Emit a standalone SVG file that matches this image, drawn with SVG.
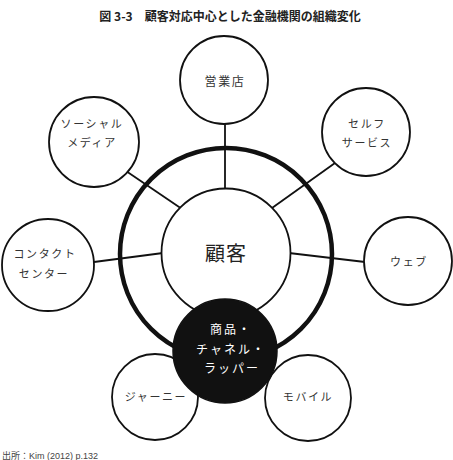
<svg xmlns="http://www.w3.org/2000/svg" width="453" height="460" viewBox="0 0 453 460">
<style>
.title{font-family:"Noto Sans CJK JP","Noto Sans",sans-serif;font-weight:bold;font-size:12px;fill:#222}
.lbl{font-family:"Noto Sans CJK JP",sans-serif;font-size:11px;fill:#333;letter-spacing:1.6px;text-anchor:middle}
.node{fill:#fff;stroke:#111;stroke-width:1.8}
.conn line{stroke:#111;stroke-width:1.8}
.src{font-family:"Liberation Sans","Noto Sans CJK JP",sans-serif;font-size:9px;fill:#444}
</style>
<rect width="453" height="460" fill="#fff"/>
<text class="title" x="230" y="21" text-anchor="middle">図 3-3　顧客対応中心とした金融機関の組織変化</text>
<g id="connectors" class="conn">
<line x1="225" y1="124" x2="225" y2="189"/>
<line x1="126" y1="171" x2="182" y2="209"/>
<line x1="335" y1="163" x2="272" y2="208"/>
<line x1="94" y1="262" x2="163" y2="253"/>
<line x1="289" y1="253" x2="365" y2="262"/>
</g>
<g id="ring"><circle cx="226" cy="254" r="106" fill="none" stroke="#111" stroke-width="4.5"/></g>
<g id="customer"><circle class="node" cx="226" cy="253" r="64.5"/>
<text x="226" y="261" text-anchor="middle" style="font-family:'Noto Sans CJK JP',sans-serif;font-size:20px;fill:#222;letter-spacing:1px">顧客</text></g>
<g id="eigyo"><circle class="node" cx="224" cy="80" r="44"/><text class="lbl" x="225" y="86" style="font-size:12px">営業店</text></g>
<g id="social"><circle class="node" cx="94" cy="142" r="45"/><text class="lbl" x="92" y="128">ソーシャル</text><text class="lbl" x="92" y="147">メディア</text></g>
<g id="self"><circle class="node" cx="366" cy="132" r="44"/><text class="lbl" x="367" y="128">セルフ</text><text class="lbl" x="367" y="147">サービス</text></g>
<g id="web"><circle class="node" cx="408" cy="261" r="44"/><text class="lbl" x="409" y="266">ウェブ</text></g>
<g id="contact"><circle class="node" cx="48" cy="265" r="46"/><text class="lbl" x="45" y="258">コンタクト</text><text class="lbl" x="44" y="278">センター</text></g>
<g id="journey"><circle class="node" cx="155" cy="397" r="43"/><text class="lbl" x="156" y="401">ジャーニー</text></g>
<g id="mobile"><circle class="node" cx="308" cy="398" r="43"/><text class="lbl" x="308" y="401">モバイル</text></g>
<g id="product"><circle cx="225" cy="351" r="52" fill="#111" stroke="#111" stroke-width="1.5"/>
<text class="lbl" x="231" y="334" style="fill:#fff;font-size:12px;letter-spacing:2px">商品・</text>
<text class="lbl" x="231" y="354" style="fill:#fff;font-size:12px;letter-spacing:2px">チャネル・</text>
<text class="lbl" x="232" y="373" style="fill:#fff;font-size:12px;letter-spacing:2px">ラッパー</text></g>
<text class="src" x="2" y="459">出所：Kim  (2012)  p.132</text>
</svg>
